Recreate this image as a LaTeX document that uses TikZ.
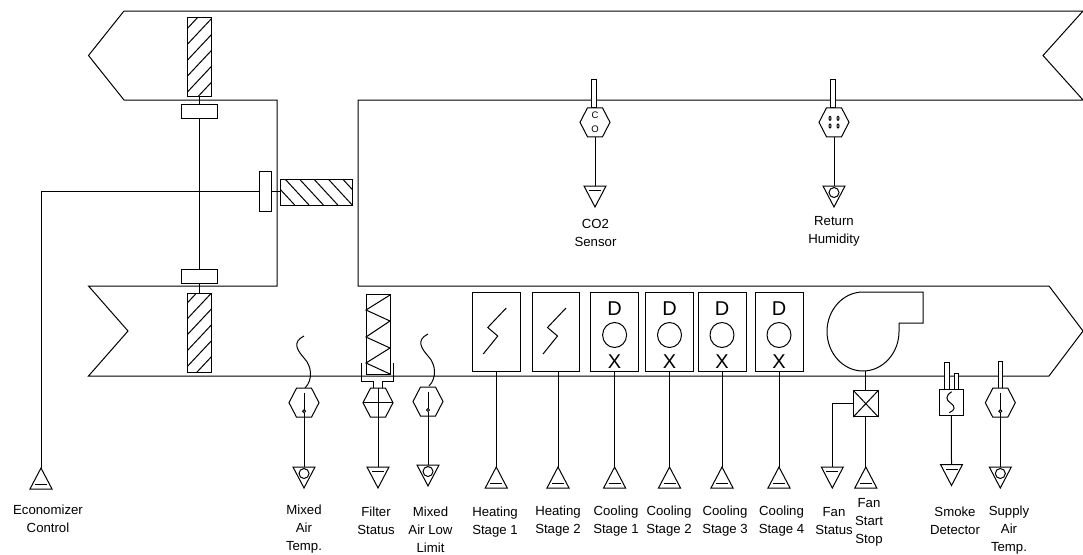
\documentclass[tikz,border=0pt]{standalone}
\usepackage{fontspec}
\setmainfont{Liberation Sans}
\tikzset{
  ln/.style={line width=1pt,black,line join=miter},
  bx/.style={draw,fill=white,line width=1pt,inner sep=0pt,outer sep=0pt},
  ghost/.style={inner sep=0pt,outer sep=0pt,minimum width=22pt},
  lbl/.style={align=center,inner sep=0pt,font=\fontsize{13.2}{18}\selectfont},
  big/.style={inner sep=0pt,font=\fontsize{20}{20}\selectfont},
  tiny/.style={inner sep=0pt,font=\fontsize{9.5}{10}\selectfont}
}
% rectangle node: name, cx, cy, w, h
\newcommand\bxat[5]{\node[bx,minimum width=#4pt,minimum height=#5pt] (#1) at (#2,#3) {};}
% hexagon: name, cx, cy
\newcommand\hexat[3]{\node[inner sep=0pt,outer sep=0pt,minimum width=30pt,minimum height=29pt] (#1) at (#2,#3) {};
  \draw[ln,fill=white] (#1.west) -- ++(7.5,-14.5) -- ++(15,0) -- ++(7.5,14.5) -- ++(-7.5,14.5) -- ++(-15,0) -- cycle;}
% triangle pointing down: name, x, top y
\newcommand\tridn[3]{\node[ghost,minimum height=21pt,anchor=north] (#1) at (#2,#3) {};
  \draw[ln] (#1.north west) -- (#1.north east) -- (#1.south) -- cycle;}
% triangle pointing up: name, x, apex y
\newcommand\triup[3]{\node[ghost,minimum height=21pt,anchor=north] (#1) at (#2,#3) {};
  \draw[ln] (#1.south west) -- (#1.south east) -- (#1.north) -- cycle;
  \draw[ln] ([xshift=-6pt,yshift=4.5pt]#1.south) -- ([xshift=6pt,yshift=4.5pt]#1.south);}
% down triangle with bar
\newcommand\trbar[3]{\tridn{#1}{#2}{#3}
  \draw[ln] ([xshift=-6pt,yshift=-4.5pt]#1.north) -- ([xshift=6pt,yshift=-4.5pt]#1.north);}
% down triangle with circle
\newcommand\trcirc[3]{\tridn{#1}{#2}{#3}
  \draw[ln] ([yshift=-6.5pt]#1.north) circle[radius=5pt];}
% temperature stem in hexagon
\newcommand\stem[1]{\draw[ln] ([yshift=10pt]#1.center) -- ([yshift=-7pt]#1.center);
  \draw[ln,fill=white] ([yshift=-8.5pt]#1.center) circle[radius=1.5pt];}
% coil rect with bolt
\newcommand\bolt[1]{\draw[ln] ([xshift=10pt,yshift=23.5pt]#1.center) -- ([xshift=-8.5pt,yshift=4pt]#1.center) -- ([xshift=1.5pt,yshift=-4.5pt]#1.center) -- ([xshift=-13pt,yshift=-22.5pt]#1.center);}
% cooling stage contents
\newcommand\dxcoil[1]{\node[big] at ([yshift=22.5pt]#1.center) {D};
  \draw[ln] ([yshift=-3.5pt]#1.center) circle[x radius=12pt,y radius=12.5pt];
  \node[big] at ([yshift=-30.5pt]#1.center) {X};}
\begin{document}
\begin{tikzpicture}[x=1pt,y=-1pt]
\useasboundingbox (0,0) rectangle (1083,554);
% ducts
\draw[ln] (277,286) -- (277,100) -- (124,100) -- (88.5,55.5) -- (124,11) -- (1083,11) -- (1043,55.5) -- (1083,100) -- (358,100) -- (358,286) -- (1049,286) -- (1083,331) -- (1049,376) -- (88.5,376) -- (128,331) -- (88.5,286) -- cycle;
% dampers
\bxat{dt}{199.5}{57}{24}{79}
\begin{scope}
\clip (187.5,17.5) rectangle (211.5,96.5);
\foreach \y in {28.3,44.2,60.1,76,91.9,107.8}
  \draw[ln] (187.5,\y) -- (211.5,\y-25.6);
\end{scope}
\draw[ln] (187.5,17.5) rectangle (211.5,96.5);
\bxat{db}{199.5}{332.5}{24}{79}
\begin{scope}
\clip (187.5,293) rectangle (211.5,372);
\foreach \y in {302.7,318.6,334.5,350.4,366.3,382.2}
  \draw[ln] (187.5,\y) -- (211.5,\y-25.6);
\end{scope}
\draw[ln] (187.5,293) rectangle (211.5,372);
\bxat{dh}{316.5}{192}{71.5}{26}
\begin{scope}
\clip (280.75,179) rectangle (352.25,205);
\foreach \x in {270.7,285,299.4,313.8,328.2,342.6}
  \draw[ln] (\x,179) -- (\x+24,205);
\end{scope}
\draw[ln] (280.75,179) rectangle (352.25,205);
% actuators
\bxat{at}{199.5}{111.5}{36}{13.5}
\bxat{ab}{199.5}{276.5}{36}{13.5}
\bxat{ah}{265.25}{191.5}{12.5}{40}
\draw[ln] (dt) -- (at);
\draw[ln] (db) -- (ab);
\draw[ln] (at) -- (ab);
\draw[ln] (ah.east) -- (ah.east -| dh.west);
\triup{tec}{41}{468}
\draw[ln] (tec.north) |- (ah.west);
% CO2
\bxat{pco}{594}{93.7}{4.5}{27.5}
\hexat{hco}{595}{122.3}
\node[tiny] at (595,115) {C};
\node[tiny] at (595,129) {O};
\trbar{tco}{595}{186}
\draw[ln] (hco.south) -- (tco.north);
% humidity
\bxat{phu}{833}{93.7}{4.5}{27.5}
\hexat{hhu}{834}{122.3}
\foreach \x in {830,838} \foreach \y in {118.3,126}
  \draw[line width=1pt] (\x,\y) circle[x radius=1pt,y radius=2pt];
\trcirc{thu}{834}{186}
\draw[ln] (hhu.south) -- (thu.north);
% mixed air temp
\draw[ln] (304,336) .. controls (292,342) and (297,350) .. (304,358) .. controls (312,366) and (313,380) .. (305,388);
\hexat{hma}{304}{402.7}
\stem{hma}
\trcirc{tma}{304}{467}
\draw[ln] ([yshift=-10pt]hma.center) -- (tma.north);
% filter
\bxat{ff}{378}{334}{24}{80}
\draw[ln] (390,295) -- (366,310) -- (390,321) -- (366,337) -- (390,348) -- (366,363) -- (390,374);
\draw[ln] (361.7,363) -- (361.7,381) -- (373,381) -- (373,388);
\draw[ln] (393.5,363) -- (393.5,381) -- (382,381) -- (382,388);
\hexat{hfi}{378}{402.7}
\draw[ln] (hfi.west) -- (hfi.east);
\trbar{tfi}{378}{467}
\draw[ln] (hfi.north) -- (tfi.north);
% mixed air low limit
\draw[ln] (428,334) .. controls (416,340) and (421,348) .. (428,356) .. controls (436,364) and (437,378) .. (429,386);
\hexat{hll}{428}{401.5}
\stem{hll}
\trcirc{tll}{428}{465}
\draw[ln] ([yshift=-10pt]hll.center) -- (tll.north);
% heating
\bxat{h1}{496.25}{331.5}{47.5}{79}
\bolt{h1}
\triup{th1}{496.25}{467}
\draw[ln] (h1) -- (th1.north);
\bxat{h2}{556}{331.5}{47.5}{79}
\bolt{h2}
\triup{th2}{558}{467}
\draw[ln] (h2.south -| th2.north) -- (th2.north);
% cooling
\bxat{c1}{614.6}{331.5}{48}{79}
\bxat{c2}{669.5}{331.5}{48}{79}
\bxat{c3}{722}{331.5}{48}{79}
\bxat{c4}{779}{331.5}{48}{79}
\dxcoil{c1}\dxcoil{c2}\dxcoil{c3}\dxcoil{c4}
\triup{tc1}{614.6}{467}
\triup{tc2}{669.5}{467}
\triup{tc3}{722}{467}
\triup{tc4}{779}{467}
\draw[ln] (c1) -- (tc1.north);
\draw[ln] (c2) -- (tc2.north);
\draw[ln] (c3) -- (tc3.north);
\draw[ln] (c4) -- (tc4.north);
% fan
\draw[ln] (923,292) -- (863,292) .. controls (843,292) and (827,310) .. (827,331.5) .. controls (827,353) and (843,371) .. (863,371) .. controls (883,371) and (899,353) .. (899,331.5) -- (899,323) -- (923,323) -- cycle;
\bxat{fb}{865.8}{403.7}{25}{26.5}
\draw[ln] (fb.north west) -- (fb.south east);
\draw[ln] (fb.north east) -- (fb.south west);
\coordinate (fanb) at (865.8,371);
\draw[ln] (fanb) -- (fb.north);
\trbar{tfs}{832.3}{467}
\draw[ln] (fb.west) -| (tfs.north);
\triup{tfc}{865.8}{467}
\draw[ln] (fb.south) -- (tfc.north);
% smoke
\bxat{sd}{951.3}{402}{24}{26}
\bxat{sp1}{946.7}{375.5}{4.7}{27}
\bxat{sp2}{956.5}{381}{4.7}{16}
\draw[ln] (951.7,391.7) .. controls (945,396) and (946,400) .. (950.5,403) .. controls (956,407) and (955,410) .. (949.3,412.7);
\trbar{tsd}{951.5}{464.5}
\draw[ln] (sd) -- (tsd.north);
% supply air temp
\bxat{psa}{1000.3}{375}{3.8}{27}
\hexat{hsa}{1000.3}{402.7}
\stem{hsa}
\trcirc{tsa}{1000.3}{467}
\draw[ln] ([yshift=-10pt]hsa.center) -- (tsa.north);
% labels
\node[lbl] (l1) at (48,519) {Economizer\\Control};
\node[lbl] (l2) at (595.5,233) {CO2\\Sensor};
\node[lbl] (l3) at (834,231) {Return\\Humidity};
\node[lbl] (l4) at (304,529.5) {Mixed\\Air\\Temp.};
\node[lbl] (l5) at (376,521) {Filter\\Status};
\node[lbl] (l6) at (430.5,530) {Mixed\\Air Low\\Limit};
\node[lbl] (l7) at (495,522) {Heating\\Stage 1};
\node[lbl] (l8) at (558,521.5) {Heating\\Stage 2};
\node[lbl] (l9) at (616,521) {Cooling\\Stage 1};
\node[lbl] (l10) at (669,521) {Cooling\\Stage 2};
\node[lbl] (l11) at (725,521) {Cooling\\Stage 3};
\node[lbl] (l12) at (781.5,521) {Cooling\\Stage 4};
\node[lbl] (l13) at (834,521) {Fan\\Status};
\node[lbl] (l14) at (869,522) {Fan\\Start\\Stop};
\node[lbl] (l15) at (955,521) {Smoke\\Detector};
\node[lbl] (l16) at (1009,530) {Supply\\Air\\Temp.};
\end{tikzpicture}
\end{document}
